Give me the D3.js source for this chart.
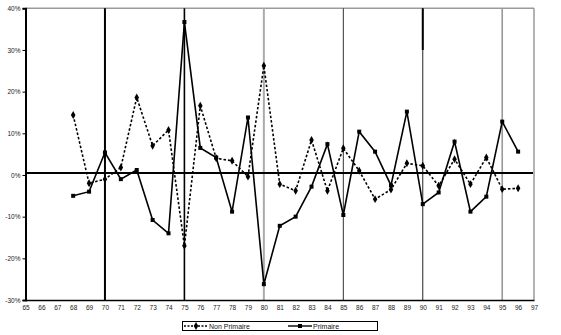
<!DOCTYPE html>
<html>
<head>
<meta charset="utf-8">
<script src="https://cdn.jsdelivr.net/npm/d3@7"></script>
<style>
  html, body { margin: 0; padding: 0; background: #fff; }
  svg { display: block; }
  text { font-family: "Liberation Sans", Arial, sans-serif; }
</style>
</head>
<body>
<svg id="chart" width="561" height="335"></svg>
<script>
// Year axis (two-digit years) and the yearly growth rates, in %
const yearTicks = d3.range(65, 98);
const years = d3.range(68, 97);
const nonPrimaire = [14.4, -2.0, -1.0, 1.8, 18.6, 7.0, 10.8, -17.0, 16.6, 4.0,
  3.4, -0.4, 26.2, -2.2, -3.8, 8.4, -3.8, 6.4, 1.0, -5.8,
  -3.5, 2.8, 2.2, -2.6, 3.8, -2.2, 4.2, -3.4, -3.2];
const primaire = [-5.0, -4.0, 5.4, -1.0, 1.2, -10.8, -14.0, 36.7, 6.5, 4.2,
  -8.8, 13.8, -26.2, -12.2, -10.0, -2.8, 7.4, -9.6, 10.4, 5.6,
  -2.5, 15.2, -7.0, -4.2, 8.0, -8.8, -5.2, 12.8, 5.6];
const yTicks = [-30, -20, -10, 0, 10, 20, 30, 40];
const refLevel = 0.5;          // level of the horizontal reference line, in %
const markerYears = [70, 75, 80, 85, 90, 95];
const seriesNames = ["Non Primaire", "Primaire"];

const svg = d3.select("#chart");
const x = d3.scaleLinear().domain([65, 97]).range([25.5, 534]);
const y = d3.scaleLinear().domain([-30, 40]).range([300, 8.3]);

// frame: grey top and right border
svg.append("line").attr("x1", x(65)).attr("x2", x(97)).attr("y1", y(40)).attr("y2", y(40))
  .attr("stroke", "#9a9a9a").attr("stroke-width", 1.5);
svg.append("line").attr("x1", x(97)).attr("x2", x(97)).attr("y1", y(40)).attr("y2", y(-30))
  .attr("stroke", "#9a9a9a").attr("stroke-width", 1.5);

// vertical separators every five years
const sepStyle = {
  70: { c: "#000", w: 2 }, 75: { c: "#000", w: 1.6 }, 80: { c: "#aaa", w: 2 },
  85: { c: "#333", w: 1 }, 90: { c: "#222", w: 1 }, 95: { c: "#999", w: 1.6 }
};
svg.append("g").selectAll("line").data(markerYears).join("line")
  .attr("x1", d => x(d)).attr("x2", d => x(d))
  .attr("y1", y(40)).attr("y2", y(-30))
  .attr("stroke", d => sepStyle[d].c).attr("stroke-width", d => sepStyle[d].w);
// heavier upper stretch on the 1990 separator
svg.append("line").attr("x1", x(90)).attr("x2", x(90)).attr("y1", y(40)).attr("y2", y(30))
  .attr("stroke", "#000").attr("stroke-width", 2);

// axes
const yAxis = d3.axisLeft(y).tickValues(yTicks).tickSize(3).tickPadding(2)
  .tickFormat(d => d + "%");
const gy = svg.append("g").attr("transform", `translate(${x(65)},0)`).call(yAxis);
gy.select(".domain").attr("stroke", "#000").attr("stroke-width", 2);
gy.selectAll(".tick line").attr("stroke", "#000");
gy.selectAll("text").attr("font-size", 6.5).attr("fill", "#222");

const xAxis = d3.axisBottom(x).tickValues(yearTicks).tickSize(0).tickPadding(5)
  .tickFormat(d => d);
const gx = svg.append("g").attr("transform", `translate(0,${y(-30)})`).call(xAxis);
gx.select(".domain").attr("stroke", "#000").attr("stroke-width", 1.5);
gx.selectAll("text").attr("font-size", 6.5).attr("fill", "#222");

// horizontal reference line
svg.append("line").attr("x1", x(65) + 1).attr("x2", x(97) - 1)
  .attr("y1", y(refLevel)).attr("y2", y(refLevel))
  .attr("stroke", "#000").attr("stroke-width", 2);

const line = d3.line().x((d, i) => x(years[i])).y(d => y(d));

// Non Primaire: dotted line with diamonds
svg.append("path").datum(nonPrimaire).attr("d", line)
  .attr("fill", "none").attr("stroke", "#000").attr("stroke-width", 1.6)
  .attr("stroke-dasharray", "2.5,2");
svg.append("g").selectAll("path").data(nonPrimaire).join("path")
  .attr("d", d3.symbol(d3.symbolDiamond, 18))
  .attr("transform", (d, i) => `translate(${x(years[i])},${y(d)})`)
  .attr("fill", "#000");

// Primaire: solid line with squares
svg.append("path").datum(primaire).attr("d", line)
  .attr("fill", "none").attr("stroke", "#000").attr("stroke-width", 1.6);
svg.append("g").selectAll("rect").data(primaire).join("rect")
  .attr("x", (d, i) => x(years[i]) - 2).attr("y", d => y(d) - 2)
  .attr("width", 4).attr("height", 4).attr("fill", "#000");

// legend
const lg = svg.append("g");
lg.append("rect").attr("x", 182.5).attr("y", 321.5).attr("width", 195).attr("height", 9)
  .attr("fill", "#fff").attr("stroke", "#000").attr("stroke-width", 1);
const lx = [184, 288];
lg.append("line").attr("x1", lx[0]).attr("x2", lx[0] + 24).attr("y1", 326).attr("y2", 326)
  .attr("stroke", "#000").attr("stroke-width", 1.4).attr("stroke-dasharray", "2,1.5");
lg.append("path").attr("d", d3.symbol(d3.symbolDiamond, 18))
  .attr("transform", `translate(${lx[0] + 12},326)`).attr("fill", "#000");
lg.append("line").attr("x1", lx[1]).attr("x2", lx[1] + 24).attr("y1", 326).attr("y2", 326)
  .attr("stroke", "#000").attr("stroke-width", 1.4);
lg.append("rect").attr("x", lx[1] + 10).attr("y", 324).attr("width", 4).attr("height", 4)
  .attr("fill", "#000");
lg.selectAll("text.lab").data(seriesNames).join("text").attr("class", "lab")
  .attr("x", (d, i) => lx[i] + 25).attr("y", 328.5)
  .attr("font-size", 7).attr("fill", "#111").text(d => d);
</script>
</body>
</html>
